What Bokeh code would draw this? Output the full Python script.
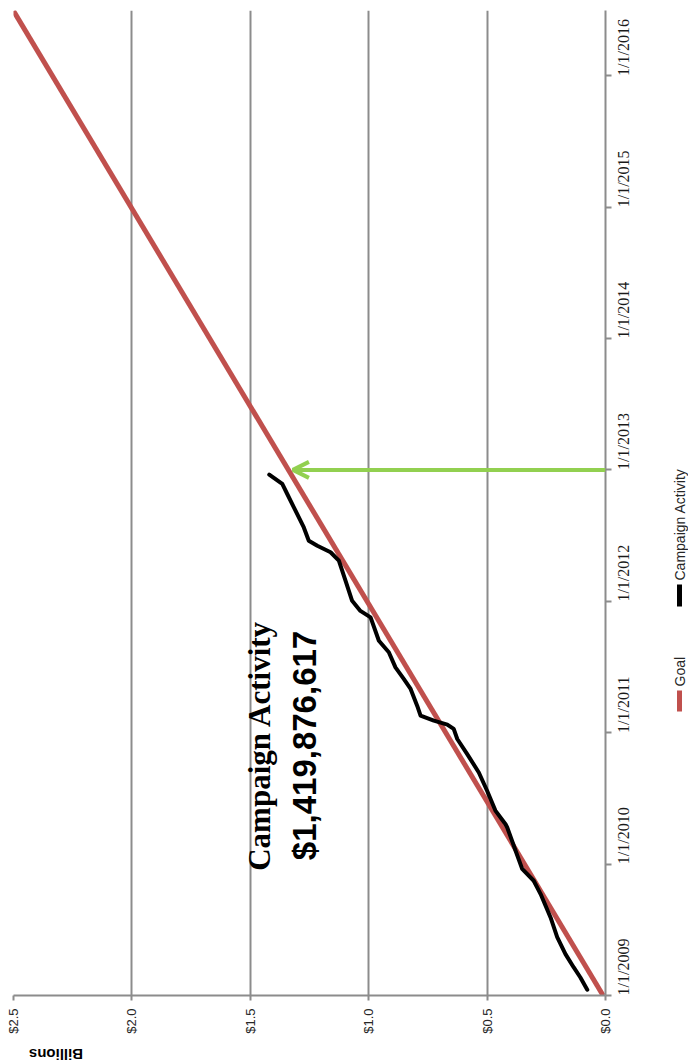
import pandas as pd
from math import pi
from bokeh.plotting import figure
from bokeh.layouts import row, column
from bokeh.models import Range1d, FixedTicker, Label, Arrow, OpenHead
from bokeh.core.properties import value
from bokeh.embed import file_html
from bokeh.resources import INLINE

# ---------------- data ----------------
value_ticks = [0.0, 0.5, 1.0, 1.5, 2.0, 2.5]
value_tick_labels = ["$0.0", "$0.5", "$1.0", "$1.5", "$2.0", "$2.5"]

date_ticks = ["2009-01-01", "2010-01-01", "2011-01-01", "2012-01-01",
              "2013-01-01", "2014-01-01", "2015-01-01", "2016-01-01"]
date_tick_labels = ["1/1/2009", "1/1/2010", "1/1/2011", "1/1/2012",
                    "1/1/2013", "1/1/2014", "1/1/2015", "1/1/2016"]

goal_dates = ["2009-01-01", "2016-06-30"]
goal_values = [0.01, 2.5]

activity_dates = [
    "2009-01-17", "2009-02-20", "2009-03-20", "2009-04-26", "2009-06-12",
    "2009-08-06", "2009-10-10", "2009-11-16", "2009-12-19",
    "2010-02-08", "2010-04-13", "2010-04-22", "2010-05-30", "2010-07-24",
    "2010-09-13", "2010-11-03", "2010-12-15",
    "2011-01-12", "2011-01-24", "2011-02-04", "2011-02-18", "2011-03-17",
    "2011-05-03", "2011-05-31", "2011-07-02", "2011-08-13", "2011-09-14",
    "2011-11-18", "2011-12-06",
    "2012-01-03", "2012-02-28", "2012-04-24", "2012-05-17", "2012-06-04",
    "2012-06-18", "2012-07-25", "2012-09-19", "2012-10-26", "2012-11-23",
    "2012-12-19",
]
activity_values = [
    0.077, 0.106, 0.134, 0.169, 0.204, 0.232, 0.274, 0.303, 0.352,
    0.380, 0.415, 0.422, 0.465, 0.500, 0.535, 0.584, 0.626,
    0.641, 0.668, 0.725, 0.781, 0.795, 0.823, 0.852, 0.887, 0.915, 0.957,
    0.992, 1.035,
    1.070, 1.098, 1.126, 1.161, 1.217, 1.253, 1.274, 1.316, 1.344, 1.365,
    1.420,
]

arrow_date = "2013-01-01"
arrow_from = 0.0
arrow_to = 1.32

annotation_title = "Campaign Activity"
annotation_amount = "$1,419,876,617"
y_title = "Billions"
legend_names = ["Goal", "Campaign Activity"]
legend_colors = ["#C0504D", "black"]

# ---------------- layout ----------------
FRAME_L, FRAME_R, FRAME_T, FRAME_B = 13, 605, 10, 995
MAIN_W, MAIN_H = 668, 1045
W, H = 688, 1062
x_start, x_end = 2.5, 0.0
y_start = pd.Timestamp("2009-01-01")
y_end = pd.Timestamp("2016-07-01")


def ms(d):
    return pd.Timestamp(d).value // 10**6


def vx(px):
    return x_start + (px - FRAME_L) / (FRAME_R - FRAME_L) * (x_end - x_start)


def dy(py):
    a, b = ms(y_start), ms(y_end)
    return a + (FRAME_B - py) / (FRAME_B - FRAME_T) * (b - a)


p = figure(frame_width=FRAME_R - FRAME_L, frame_height=FRAME_B - FRAME_T,
           x_range=Range1d(x_start, x_end),
           y_range=Range1d(ms(y_start), ms(y_end)),
           y_axis_type="datetime", y_axis_location="right",
           output_backend="svg", toolbar_location=None,
           min_border_left=FRAME_L, min_border_right=MAIN_W - FRAME_R,
           min_border_top=FRAME_T, min_border_bottom=MAIN_H - FRAME_B)
p.outline_line_color = None
p.background_fill_color = "white"
p.border_fill_color = "white"

grey = "#8c8c8c"

# value axis (bottom)
xa = p.xaxis[0]
xa.ticker = FixedTicker(ticks=value_ticks)
xa.major_label_overrides = {t: l for t, l in zip(value_ticks, value_tick_labels)}
xa.major_label_orientation = pi / 2
xa.axis_line_color = grey
xa.axis_line_width = 2
xa.major_tick_line_color = grey
xa.major_tick_line_width = 2
xa.major_tick_out = 5
xa.major_tick_in = 0
xa.minor_tick_line_color = None
xa.major_label_standoff = 8
xa.major_label_text_font = "Liberation Sans"
xa.major_label_text_font_size = "13px"
xa.major_label_text_color = "#262626"

# date axis (right)
ya = p.yaxis[0]
tick_ms = [ms(d) for d in date_ticks]
ya.ticker = FixedTicker(ticks=tick_ms)
ya.major_label_overrides = {t: l for t, l in zip(tick_ms, date_tick_labels)}
ya.major_label_orientation = pi / 2
ya.axis_line_color = grey
ya.axis_line_width = 2
ya.major_tick_line_color = grey
ya.major_tick_line_width = 2
ya.major_tick_out = 6
ya.major_tick_in = 0
ya.minor_tick_line_color = None
ya.major_label_standoff = 12
ya.major_label_text_font = "Liberation Serif"
ya.major_label_text_font_size = "16px"
ya.major_label_text_color = "#1a1a1a"

p.xgrid.grid_line_color = grey
p.xgrid.grid_line_width = 2
p.ygrid.grid_line_color = None

red = legend_colors[0]
green = "#92D050"

p.line(x=goal_values, y=[ms(d) for d in goal_dates],
       line_color=red, line_width=5)
p.line(x=activity_values, y=[ms(d) for d in activity_dates],
       line_color="black", line_width=4, line_join="round", line_cap="round")

p.add_layout(Arrow(end=OpenHead(line_color=green, line_width=4, size=16),
                   x_start=arrow_from, y_start=ms(arrow_date),
                   x_end=arrow_to, y_end=ms(arrow_date),
                   line_color=green, line_width=4))

p.add_layout(Label(x=vx(259), y=dy(745), text=annotation_title, angle=pi / 2,
                   text_align="center", text_baseline="middle",
                   text_font="Liberation Serif", text_font_style="bold",
                   text_font_size="31px", text_color="black"))
p.add_layout(Label(x=vx(304), y=dy(745), text=annotation_amount, angle=pi / 2,
                   text_align="center", text_baseline="middle",
                   text_font="Liberation Sans", text_font_style="bold",
                   text_font_size="33px", text_color="black"))

# ---- "Billions" strip under the main figure ----
bh = H - MAIN_H
pb = figure(width=MAIN_W, height=bh, x_range=Range1d(0, MAIN_W), y_range=Range1d(bh, 0),
            x_axis_location=None, y_axis_location=None,
            output_backend="svg", toolbar_location=None, min_border=0)
pb.grid.visible = False
pb.outline_line_color = None
pb.text(x=[48], y=[1054 - MAIN_H], text=[y_title], angle=pi,
        text_align="center", text_baseline="middle",
        text_font=value("Liberation Sans"), text_font_style="bold",
        text_font_size="15px", text_color="black")

# ---- rotated legend strip on the right ----
lw = W - MAIN_W
pl = figure(width=lw, height=H, x_range=Range1d(0, lw), y_range=Range1d(H, 0),
            x_axis_location=None, y_axis_location=None,
            output_backend="svg", toolbar_location=None, min_border=0)
pl.grid.visible = False
pl.outline_line_color = None
lx = 679 - MAIN_W
swatch_y0 = [711, 606]
swatch_y1 = [690, 584]
text_y = [686, 580]
pl.segment(x0=[lx, lx], y0=swatch_y0, x1=[lx, lx], y1=swatch_y1,
           line_color=legend_colors, line_width=5)
pl.text(x=[lx, lx], y=text_y, text=legend_names, angle=pi / 2,
        text_align="left", text_baseline="middle",
        text_font=value("Liberation Sans"), text_font_size="14px",
        text_color="#262626")

layout = row(column(p, pb), pl)
open("out.html", "w").write(file_html(layout, INLINE))
